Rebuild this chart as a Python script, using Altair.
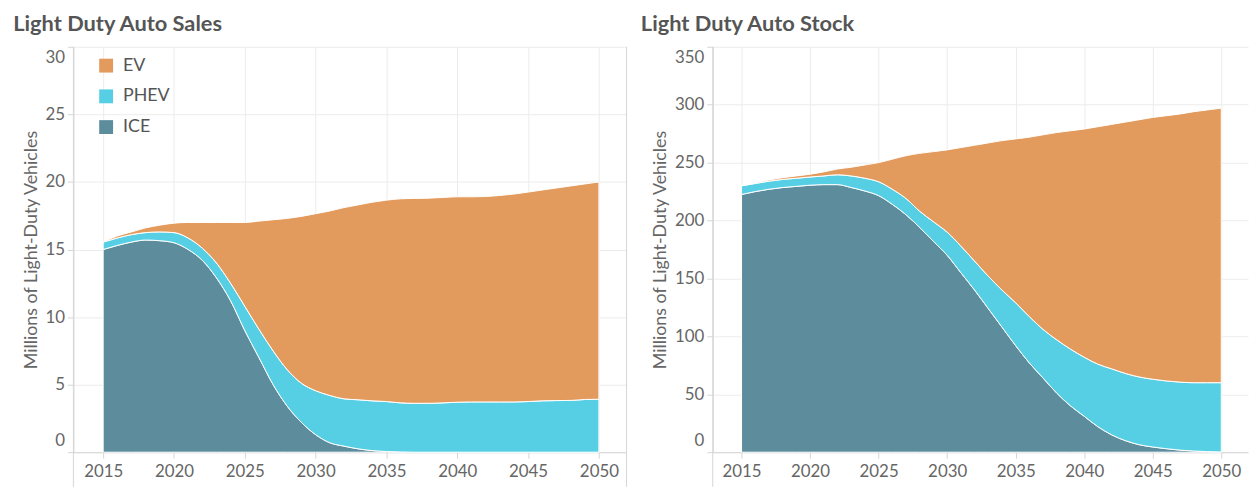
import altair as alt
import pandas as pd

years = list(range(2015, 2051))
series_names = ["EV", "PHEV", "ICE"]
series_colors = ["#E39B5D", "#56CFE5", "#5D8D9D"]

# Light Duty Auto Sales (millions)
sales_ice = [15.0, 15.3, 15.55, 15.7, 15.65, 15.5, 15.0, 14.2, 12.9, 11.2,
             9.0, 7.0, 5.0, 3.4, 2.2, 1.3, 0.7, 0.45, 0.25, 0.12,
             0.05, 0.02, 0.0, 0.0, 0.0, 0.0, 0.0, 0.0, 0.0, 0.0,
             0.0, 0.0, 0.0, 0.0, 0.0, 0.0]
sales_phev = [0.55, 0.55, 0.55, 0.55, 0.65, 0.75, 0.85, 0.9, 1.1, 1.3,
              1.8, 2.1, 2.5, 2.7, 2.9, 3.25, 3.5, 3.5, 3.63, 3.68,
              3.7, 3.63, 3.62, 3.62, 3.65, 3.7, 3.72, 3.72, 3.72, 3.72,
              3.75, 3.8, 3.82, 3.83, 3.9, 3.92]
sales_ev = [0.0, 0.15, 0.2, 0.35, 0.5, 0.7, 1.15, 1.9, 3.0, 4.5,
            6.2, 8.0, 9.7, 11.2, 12.35, 13.1, 13.65, 14.15, 14.42, 14.7,
            14.9, 15.1, 15.16, 15.18, 15.2, 15.2, 15.18, 15.2, 15.28, 15.38,
            15.5, 15.6, 15.73, 15.87, 15.95, 16.08]

# Light Duty Auto Stock (millions)
stock_ice = [222.5, 225, 227, 228.5, 229.5, 230.5, 231, 231, 228.5, 225.5,
             221.5, 214, 205, 194, 182, 170, 155, 140, 124, 108,
             92, 77, 64, 51, 40, 31, 22, 15, 10, 6.5,
             4.5, 3, 1.8, 1, 0.5, 0.2]
stock_phev = [7.5, 7, 7, 7, 7, 7.1, 7.5, 8.5, 10, 11,
              12, 13, 14, 14, 17, 20, 23, 25, 28, 32,
              37, 40, 42, 46, 49, 51, 54, 57, 58, 58.5,
              58.5, 58.5, 58.7, 59, 59.5, 59.8]
stock_ev = [0, 0.5, 1, 1.5, 2, 2.4, 3.5, 5, 7.5, 11.5,
            16.5, 26, 37, 50, 60.5, 71, 85, 100, 115, 129,
            141.5, 155, 168, 179, 188.5, 197, 205, 211, 217, 222,
            226, 229, 231.5, 234, 235.5, 237]

year_ticks = [2015, 2020, 2025, 2030, 2035, 2040, 2045, 2050]
sales_ticks = [0, 5, 10, 15, 20, 25, 30]
stock_ticks = [0, 50, 100, 150, 200, 250, 300, 350]

FONT = "Lato"
TEXT = "#666666"
LINE = "#d6d6d6"
H = 409


def long_df(ice, phev, ev):
    rows = []
    for i, yr in enumerate(years):
        rows.append({"year": yr, "type": "ICE", "ord": 0, "value": ice[i]})
        rows.append({"year": yr, "type": "PHEV", "ord": 1, "value": phev[i]})
        rows.append({"year": yr, "type": "EV", "ord": 2, "value": ev[i]})
    return pd.DataFrame(rows)


def panel(df, title, ticks, width, title_dx, show_legend, right_border):
    if show_legend:
        legend = alt.Legend(
            title=None, orient="none", legendX=24, legendY=10,
            symbolType="square", symbolSize=196, symbolStrokeWidth=0,
            symbolOpacity=1, labelFontSize=18, labelFont=FONT, labelColor="#555555",
            labelOffset=8, rowPadding=13, padding=0,
        )
    else:
        legend = None
    area = alt.Chart(df).mark_area(
        interpolate="monotone", stroke="white", strokeWidth=1, opacity=1
    ).encode(
        x=alt.X("year:Q",
                scale=alt.Scale(domain=[2012.9, 2051.95], nice=False, zero=False),
                axis=alt.Axis(values=year_ticks, format="d", title=None,
                              labelPadding=6)),
        y=alt.Y("value:Q", stack="zero",
                scale=alt.Scale(domain=[ticks[0], ticks[-1]], nice=False),
                axis=alt.Axis(values=ticks, title="Millions of Light-Duty Vehicles",
                              labelFlush=True, labelFlushOffset=-3, labelPadding=3,
                              titlePadding=5)),
        color=alt.Color("type:N",
                        scale=alt.Scale(domain=series_names, range=series_colors),
                        legend=legend),
        order=alt.Order("ord:Q", sort="ascending"),
    )
    one = pd.DataFrame({"k": [0]})
    layers = [area,
              alt.Chart(one).mark_rule(color=LINE, strokeWidth=1).encode(
                  x=alt.value(0), y=alt.value(0), y2=alt.value(H + 35))]
    if right_border:
        layers.append(alt.Chart(one).mark_rule(color=LINE, strokeWidth=1).encode(
            x=alt.value(width), y=alt.value(0), y2=alt.value(H + 35)))
    return alt.layer(*layers).properties(
        width=width, height=H,
        title=alt.TitleParams(title, anchor="start", dx=title_dx, offset=10,
                              fontSize=22, font=FONT, fontWeight="bold",
                              color="#555555"),
    )


left = panel(long_df(sales_ice, sales_phev, sales_ev), "Light Duty Auto Sales",
             sales_ticks, 558, -9, True, True)
right = panel(long_df(stock_ice, stock_phev, stock_ev), "Light Duty Auto Stock",
              stock_ticks, 540, -11, False, False)

chart = alt.hconcat(left, right, spacing=12).resolve_legend(
    color="independent"
).properties(
    padding={"left": 4, "top": 3, "right": 0, "bottom": 0}
).configure_view(
    stroke="transparent"
).configure_axis(
    labelFont=FONT, labelFontSize=17, labelColor=TEXT,
    titleFont=FONT, titleFontSize=18, titleColor=TEXT, titleFontWeight="normal",
    gridColor="#ececec", gridWidth=1, domainColor=LINE, tickColor=LINE,
    tickSize=6,
)

chart.save("out.html", embed_options={"renderer": "svg", "actions": False})
